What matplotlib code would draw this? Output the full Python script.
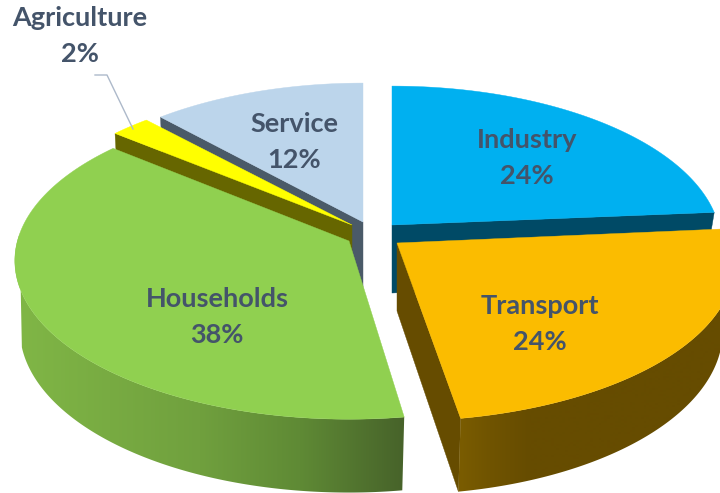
import numpy as np
import matplotlib
matplotlib.use('Agg')
import matplotlib.pyplot as plt
from matplotlib.colors import to_rgb
from matplotlib.patches import Polygon

# pie data, clockwise from 12 o'clock (labels show the rounded share)
sectors = ['Industry', 'Transport', 'Households', 'Agriculture', 'Service']
shares = [23.7, 23.8, 38.4, 2.2, 11.9]

top_colors = ['#00B0F0', '#FBBC00', '#90D050', '#FFFF00', '#BCD5EB']
cut_colors = ['#004A66', '#664C00', '#5F8A35', '#666600', '#4A5A68']

# where each slice's tip ended up after exploding, in pixels
apex = [(392, 225), (397, 243), (349, 241), (352, 225), (363, 222)]
x_scale = [0.975, 1.0, 0.99, 0.985, 0.97]
# small turn of a slice in the 3d view, degrees
turn = [0, -0.6, 0.6, 0, 0]

label_pos = [(527, 158), (540, 324), (217, 317), (80, 35.5), (294, 141.5)]

# perspective of the tilted disc
DIST = 8.07
F = 2703
G = 1260
DEPTH = 68
TEXT = '#44546A'


def project(theta, i, bottom=False):
    theta = theta + np.radians(turn[i])
    u = np.sin(theta)
    v = -np.cos(theta)
    x = F * u / (DIST - v) * x_scale[i]
    y = G * v / (DIST - v)
    if bottom:
        x = x * np.where(x > 0, 0.965, 0.985)
        y = y * 1.03 + DEPTH
    return apex[i][0] + x, apex[i][1] + y


def draw_top(ax, i, t0, t1):
    th = np.linspace(t0, t1, 120)
    x, y = project(th, i)
    ax.fill(np.r_[apex[i][0], x], np.r_[apex[i][1], y], color=top_colors[i], lw=0.3, zorder=z[i] + 0.2)


def draw_cut(ax, i, t):
    x, y = project(t, i)
    xb, yb = project(t, i, bottom=True)
    ax.fill([apex[i][0], x, xb, apex[i][0]], [apex[i][1], y, yb, apex[i][1] + DEPTH],
            color=cut_colors[i], lw=0.3, zorder=z[i])


def draw_wall(ax, i, t0, t1, t1_bottom, stops_x, stops_c):
    xt, yt = project(np.linspace(t0, t1, 160), i)
    xb, yb = project(np.linspace(t0, t1_bottom, 160), i, bottom=True)
    poly = Polygon(np.c_[np.r_[xt, xb[::-1]], np.r_[yt, yb[::-1]]], closed=True, fc='none', ec='none',
                   transform=ax.transData)
    ax.add_patch(poly)
    # horizontal shading, clipped to the wall outline
    xs = np.arange(0, 721)
    rgb = np.array([to_rgb(c) for c in stops_c])
    grad = np.stack([np.interp(xs, stops_x, rgb[:, n]) for n in range(3)], axis=-1)[None, :, :]
    im = ax.imshow(grad, extent=[0, 720, 493, 0], aspect='auto', zorder=z[i] + 0.1, interpolation='bilinear')
    im.set_clip_path(poly)


fig = plt.figure(figsize=(7.2, 4.93), dpi=100)
ax = fig.add_axes([0, 0, 1, 1])

# painter's order: back slices first
z = [2, 5, 4, 3, 1]
edges = np.radians(np.r_[0, np.cumsum(shares)] * 3.6)

# Industry
draw_cut(ax, 0, edges[1])
draw_top(ax, 0, edges[0], edges[1])

# Transport
draw_cut(ax, 1, edges[2])
draw_wall(ax, 1, edges[1], edges[2], edges[2], [460, 490, 530, 720],
          ['#7A5C00', '#705400', '#664C00', '#664C00'])
draw_top(ax, 1, edges[1], edges[2])

# Households, the wall runs out at the left tangent of the top face
draw_wall(ax, 2, edges[2], np.radians(272), np.radians(256), [20, 200, 300, 403],
          ['#80B646', '#70A03E', '#5F8A35', '#47632A'])
draw_top(ax, 2, edges[2], edges[3])

# Agriculture
draw_cut(ax, 3, edges[3])
draw_top(ax, 3, edges[3], edges[4])

# Service
draw_cut(ax, 4, edges[4])
draw_top(ax, 4, edges[4], edges[5])

# leader line for the small slice
ax.plot([133, 107, 95], [129, 75, 75], color='#ADB9CA', lw=1, zorder=6)

for name, share, (lx, ly) in zip(sectors, shares, label_pos):
    ax.text(lx, ly, f'{name}\n{round(share)}%', ha='center', va='center', multialignment='center',
            family='Lato', weight='bold', fontsize=19.5, color=TEXT, linespacing=1.6, zorder=7)

ax.set_xlim(0, 720)
ax.set_ylim(493, 0)
ax.axis('off')

fig.savefig('out.png', dpi=100)
